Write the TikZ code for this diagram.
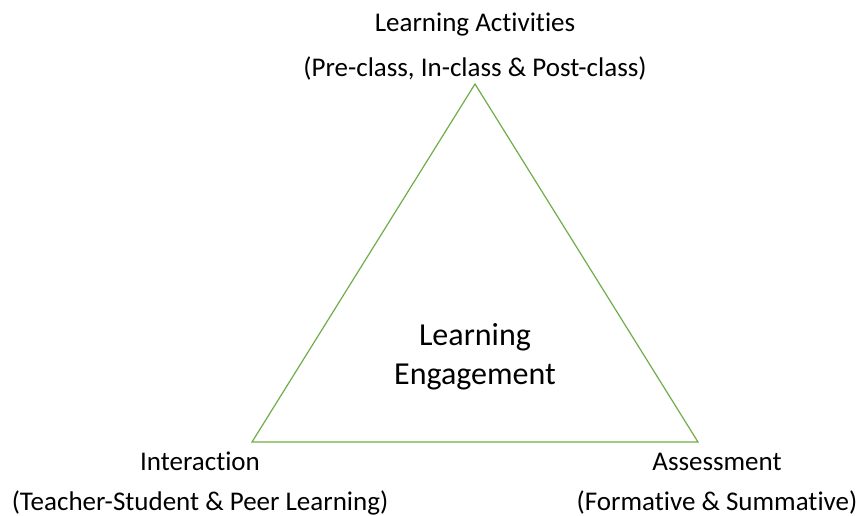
\documentclass[tikz,border=0pt]{standalone}
\usepackage{fontspec}
\setmainfont[Ligatures=NoCommon]{Carlito}
\definecolor{tgreen}{HTML}{70AD47}
\begin{document}
\begin{tikzpicture}[x=1pt,y=-1pt,
  lbl/.style={anchor=base,inner sep=0pt,font=\fontsize{27}{32}\selectfont},
  big/.style={anchor=base,inner sep=0pt,font=\fontsize{32}{38}\selectfont},
  edge/.style={draw=tgreen,line width=1.2pt,line join=miter}]
\useasboundingbox (0,0) rectangle (857,515);
\coordinate (top) at (475,84);
\coordinate (bl) at (252,442);
\coordinate (br) at (698,442);
\draw[edge] (top) -- (bl) -- (br) -- cycle;
\node[lbl] (a1) at (475,31) {Learning Activities};
\node[lbl] (a2) at (475,76) {(Pre-class, In-class \& Post-class)};
\node[lbl] (i1) at (200,470) {Interaction};
\node[lbl] (i2) at (200,510) {(Teacher-Student \& Peer Learning)};
\node[lbl] (s1) at (717,470) {Assessment};
\node[lbl] (s2) at (717,510) {(Formative \& Summative)};
\node[big] (e1) at (475,345) {Learning};
\node[big] (e2) at (475,384) {Engagement};
\end{tikzpicture}
\end{document}
